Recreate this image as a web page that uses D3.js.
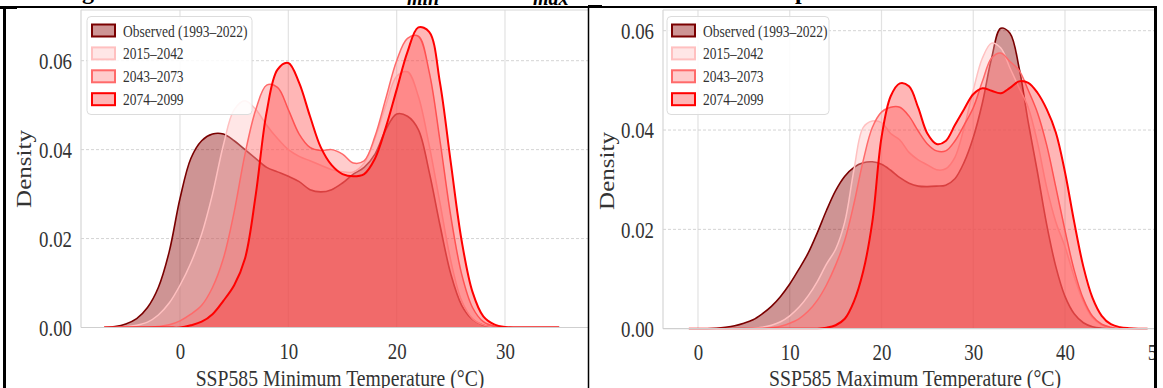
<!DOCTYPE html>
<html>
<head>
<meta charset="utf-8">
<script src="https://cdn.jsdelivr.net/npm/d3@7"></script>
<style>
  html, body { margin: 0; padding: 0; background: #fff; }
  svg { display: block; }
</style>
</head>
<body>
<div id="chart"></div>
<script>
// ---- data ----
const seriesNames = ["Observed (1993–2022)", "2015–2042", "2043–2073", "2074–2099"];

const tminTemps = [-7, -6, -5, -4, -3, -2, -1, 0, 1, 2, 3, 4, 5, 6, 7, 8, 9, 10, 11, 12, 13, 14,
  15, 16, 17, 18, 19, 20, 21, 22, 23, 24, 25, 26, 27, 28, 29, 30, 31, 32, 33, 34, 35];
const tminObserved = [0, 0.0002, 0.0008, 0.002, 0.0045, 0.009, 0.017, 0.029, 0.038, 0.042, 0.0435, 0.0435, 0.042, 0.040, 0.038, 0.036, 0.035, 0.034, 0.0328, 0.031, 0.0305, 0.031,
  0.0325, 0.0345, 0.036, 0.039, 0.0445, 0.048, 0.0475, 0.0445, 0.035, 0.023, 0.012, 0.005, 0.0018, 0.0005, 0.0001, 0, 0, 0, 0, 0, 0];
const tmin2015 = [0, 0, 0.0002, 0.0005, 0.0012, 0.0028, 0.0055, 0.0095, 0.0145, 0.021, 0.030, 0.041, 0.049, 0.051, 0.049, 0.0455, 0.0425, 0.040, 0.0385, 0.0375, 0.0365, 0.0355,
  0.035, 0.035, 0.037, 0.0425, 0.050, 0.0565, 0.0575, 0.052, 0.041, 0.028, 0.015, 0.006, 0.002, 0.0006, 0.0001, 0, 0, 0, 0, 0, 0];
const tmin2043 = [0, 0, 0, 0, 0, 0.0002, 0.0006, 0.0015, 0.003, 0.005, 0.009, 0.0155, 0.026, 0.039, 0.049, 0.0545, 0.054, 0.049, 0.0435, 0.0405, 0.0398, 0.040,
  0.039, 0.037, 0.0375, 0.043, 0.0515, 0.060, 0.065, 0.0655, 0.0575, 0.042, 0.025, 0.012, 0.0045, 0.0013, 0.0003, 0, 0, 0, 0, 0, 0];
const tmin2074 = [0, 0, 0, 0, 0, 0, 0, 0, 0.0005, 0.0013, 0.003, 0.006, 0.0095, 0.0155, 0.030, 0.0485, 0.058, 0.0595, 0.055, 0.0475, 0.0405, 0.0365,
  0.0345, 0.034, 0.0345, 0.038, 0.045, 0.0535, 0.062, 0.0675, 0.0665, 0.055, 0.037, 0.0195, 0.008, 0.0025, 0.0007, 0.0001, 0, 0, 0, 0, 0];

const tmaxTemps = [-1, 0, 1, 2, 3, 4, 5, 6, 7, 8, 9, 10, 11, 12, 13, 14, 15, 16, 17, 18, 19, 20, 21, 22, 23, 24,
  25, 26, 27, 28, 29, 30, 31, 32, 33, 34, 35, 36, 37, 38, 39, 40, 41, 42, 43, 44, 45, 46, 47, 48, 49];
const tmaxObserved = [0, 0, 0, 0.0001, 0.0003, 0.0006, 0.0011, 0.0018, 0.003, 0.0045, 0.0065, 0.009, 0.012, 0.0152, 0.0193, 0.0238, 0.0278, 0.0307, 0.0325, 0.0334, 0.0336, 0.0331, 0.0319, 0.0304, 0.0293, 0.0287,
  0.0286, 0.0287, 0.0289, 0.0302, 0.0335, 0.0385, 0.0455, 0.0545, 0.0605, 0.0595, 0.0525, 0.0415, 0.0315, 0.021, 0.0125, 0.0065, 0.003, 0.0012, 0.0004, 0.0001, 0, 0, 0, 0, 0];
const tmax2015 = [0, 0, 0, 0, 0, 0, 0, 0.0001, 0.0003, 0.0007, 0.0014, 0.0026, 0.0043, 0.0066, 0.0095, 0.013, 0.016, 0.0215, 0.032, 0.0405, 0.0418, 0.0415, 0.0393, 0.038, 0.0355, 0.034,
  0.033, 0.032, 0.0322, 0.0345, 0.0405, 0.048, 0.0545, 0.0575, 0.0565, 0.0525, 0.0485, 0.0445, 0.0375, 0.0285, 0.0215, 0.0165, 0.0105, 0.0055, 0.0022, 0.0008, 0.0002, 0, 0, 0, 0];
const tmax2043 = [0, 0, 0, 0, 0, 0, 0, 0, 0, 0.0002, 0.0005, 0.0011, 0.002, 0.0035, 0.0057, 0.0088, 0.0128, 0.0178, 0.0252, 0.0338, 0.0405, 0.0436, 0.0446, 0.0446, 0.0428, 0.0398,
  0.0372, 0.0358, 0.0358, 0.0378, 0.041, 0.0445, 0.0498, 0.0545, 0.0555, 0.0538, 0.052, 0.048, 0.0435, 0.037, 0.0285, 0.0198, 0.0118, 0.006, 0.0025, 0.0009, 0.0003, 0, 0, 0, 0];
const tmax2074 = [0, 0, 0, 0, 0, 0, 0, 0, 0, 0, 0, 0, 0, 0, 0, 0.0002, 0.0007, 0.002, 0.0055, 0.0115, 0.0215, 0.0385, 0.0468, 0.0494, 0.0488, 0.0445,
  0.0393, 0.0372, 0.0378, 0.041, 0.0442, 0.0472, 0.0484, 0.0479, 0.0474, 0.0485, 0.0498, 0.0495, 0.0475, 0.0442, 0.0395, 0.0315, 0.0215, 0.0125, 0.0062, 0.0026, 0.0009, 0.0003, 0.0001, 0, 0];

const densityTicks = [0, 0.02, 0.04, 0.06];
const tminTicks = [0, 10, 20, 30];
const tmaxTicks = [0, 10, 20, 30, 40, 50];

// ---- styles ----
const seriesStyles = [
  {stroke: "#7a0000", fill: "#8b0000", op: 0.42, sw: 1.6},
  {stroke: "#ffc0c0", fill: "#ffb8b8", op: 0.35, sw: 1.5},
  {stroke: "#ff6a6a", fill: "#ff6e6e", op: 0.35, sw: 1.5},
  {stroke: "#ff0000", fill: "#ff2020", op: 0.33, sw: 2}
];
const FONT = "'Liberation Serif', 'DejaVu Serif', serif";
const SX = 0.82; // text in the figure is horizontally condensed

const width = 1163, height = 388;
const svg = d3.select("#chart").append("svg")
  .attr("width", width).attr("height", height);

function drawPanel(cfg, id) {
  const g = svg.append("g");
  const x = d3.scaleLinear().domain(cfg.xDom).range(cfg.xRange);
  const y = d3.scaleLinear().domain([0, 0.06]).range(cfg.yRange);
  const base = y(0);

  svg.append("clipPath").attr("id", "clip" + id)
    .append("rect").attr("x", cfg.left).attr("y", cfg.top)
    .attr("width", cfg.right - cfg.left).attr("height", base - cfg.top + 0.5);

  const plot = g.append("g").attr("clip-path", `url(#clip${id})`);

  // grid
  plot.selectAll(".vgrid").data(cfg.xTicks).join("line")
    .attr("x1", d => x(d)).attr("x2", d => x(d))
    .attr("y1", cfg.top).attr("y2", base)
    .attr("stroke", "#e2e2e2").attr("stroke-width", 1.2);
  plot.selectAll(".hgrid").data(densityTicks.slice(1)).join("line")
    .attr("x1", cfg.left).attr("x2", cfg.right)
    .attr("y1", d => y(d)).attr("y2", d => y(d))
    .attr("stroke", "#d4d4d4").attr("stroke-width", 1)
    .attr("stroke-dasharray", "3,2");

  // KDE areas
  cfg.series.forEach((vals, i) => {
    const st = seriesStyles[i];
    const area = d3.area()
      .x((d, k) => x(cfg.temps[k]))
      .y0(base)
      .y1(d => y(d))
      .curve(d3.curveCatmullRom.alpha(0.5));
    const line = d3.line()
      .x((d, k) => x(cfg.temps[k]))
      .y(d => y(d))
      .curve(d3.curveCatmullRom.alpha(0.5));
    plot.append("path").datum(vals).attr("d", area)
      .attr("fill", st.fill).attr("fill-opacity", st.op);
    plot.append("path").datum(vals).attr("d", line)
      .attr("fill", "none").attr("stroke", st.stroke)
      .attr("stroke-width", st.sw).attr("stroke-linejoin", "round");
  });

  // spines
  g.append("line").attr("x1", cfg.left).attr("x2", cfg.left).attr("y1", cfg.top).attr("y2", base)
    .attr("stroke", "#d6d6d6").attr("stroke-width", 1.2);
  g.append("line").attr("x1", cfg.left).attr("x2", cfg.right).attr("y1", cfg.top).attr("y2", cfg.top)
    .attr("stroke", "#d6d6d6").attr("stroke-width", 1.2);
  g.append("line").attr("x1", cfg.left).attr("x2", cfg.right).attr("y1", base).attr("y2", base)
    .attr("stroke", "#cfcfcf").attr("stroke-width", 1.2);

  // y axis
  const ya = g.append("g").attr("transform", `translate(${cfg.left},0)`)
    .call(d3.axisLeft(y).tickValues(densityTicks).tickFormat(d3.format(".2f")).tickSize(0));
  ya.select(".domain").remove();
  ya.attr("font-family", FONT).attr("font-size", 23);
  ya.selectAll("text").attr("x", null).attr("dy", "0.34em").attr("fill", "#333")
    .attr("transform", `translate(-9,0) scale(${SX},1)`);

  // x axis
  const xa = g.append("g").attr("transform", `translate(0,${base})`)
    .call(d3.axisBottom(x).tickValues(cfg.xTicks).tickSize(0));
  xa.select(".domain").remove();
  xa.attr("font-family", FONT).attr("font-size", 23);
  xa.selectAll("text").attr("y", 0).attr("dy", null).attr("fill", "#333")
    .attr("transform", `translate(0,31) scale(${SX},1)`);

  // axis titles
  g.append("text").text(cfg.xLabel)
    .attr("transform", `translate(${cfg.xLabelX},385.5) scale(${SX},1)`)
    .attr("text-anchor", "middle").attr("font-family", FONT).attr("font-size", 24).attr("fill", "#333");
  g.append("text").text("Density")
    .attr("transform", `translate(${cfg.densX},${cfg.densY}) scale(${SX},1) rotate(-90)`)
    .attr("text-anchor", "middle").attr("font-family", FONT).attr("font-size", 25).attr("fill", "#333");

  // legend
  const lg = g.append("g").attr("transform", `translate(${cfg.legX},16.5)`);
  lg.append("rect").attr("width", cfg.legW).attr("height", 98).attr("rx", 4)
    .attr("fill", "#fff").attr("fill-opacity", 0.85)
    .attr("stroke", "#dcdcdc").attr("stroke-width", 1);
  seriesNames.forEach((name, i) => {
    const st = seriesStyles[i];
    const row = lg.append("g").attr("transform", `translate(0,${14 + i * 22.9})`);
    row.append("rect").attr("x", 5).attr("y", -6).attr("width", 23).attr("height", 12)
      .attr("fill", "#fff");
    row.append("rect").attr("x", 5).attr("y", -6).attr("width", 23).attr("height", 12)
      .attr("fill", st.fill).attr("fill-opacity", st.op)
      .attr("stroke", st.stroke).attr("stroke-width", 2);
    row.append("text").text(name)
      .attr("transform", `translate(36,6) scale(0.77,1)`)
      .attr("font-family", FONT).attr("font-size", 17.5).attr("fill", "#333");
  });
}

drawPanel({
  temps: tminTemps,
  series: [tminObserved, tmin2015, tmin2043, tmin2074],
  xDom: [0, 30], xRange: [180, 505],
  yRange: [327.5, 60.7],
  left: 81, right: 588, top: 10,
  xTicks: tminTicks,
  xLabel: "SSP585 Minimum Temperature (°C)", xLabelX: 340,
  densX: 31, densY: 169,
  legX: 87, legW: 165
}, 0);

drawPanel({
  temps: tmaxTemps,
  series: [tmaxObserved, tmax2015, tmax2043, tmax2074],
  xDom: [0, 40], xRange: [698, 1065],
  yRange: [328.7, 30.7],
  left: 663, right: 1156, top: 10,
  xTicks: tmaxTicks,
  xLabel: "SSP585 Maximum Temperature (°C)", xLabelX: 915,
  densX: 614, densY: 171,
  legX: 667, legW: 162
}, 1);

// white margin beyond the right border
svg.append("rect").attr("x", 1157).attr("y", 0).attr("width", 6).attr("height", height).attr("fill", "#fff");

// caption line above, mostly cut off
const cap = svg.append("g").attr("font-family", FONT).attr("font-weight", "bold").attr("fill", "#000");
cap.append("text").text("g").attr("x", 82).attr("y", -1).attr("font-size", 24);
cap.append("text").text("min").attr("x", 407).attr("y", 5).attr("font-size", 20).attr("font-style", "italic");
cap.append("text").text("max").attr("x", 533).attr("y", 5).attr("font-size", 20).attr("font-style", "italic");
cap.append("text").text("p").attr("x", 795).attr("y", -1).attr("font-size", 24);

// table borders around the two panels
const border = svg.append("g").attr("stroke", "#000");
border.append("line").attr("x1", 0).attr("x2", 1157).attr("y1", 7).attr("y2", 7).attr("stroke-width", 1.8);
border.append("line").attr("x1", 0).attr("x2", 17).attr("y1", 7.5).attr("y2", 7.5).attr("stroke-width", 3);
border.append("line").attr("x1", 588).attr("x2", 602).attr("y1", 6.5).attr("y2", 6.5).attr("stroke-width", 3);
border.append("line").attr("x1", 4.5).attr("x2", 4.5).attr("y1", 6).attr("y2", height).attr("stroke-width", 3);
border.append("line").attr("x1", 588.5).attr("x2", 588.5).attr("y1", 6).attr("y2", height).attr("stroke-width", 1.5);
border.append("line").attr("x1", 1155.5).attr("x2", 1155.5).attr("y1", 6).attr("y2", height).attr("stroke-width", 3);
</script>
</body>
</html>
